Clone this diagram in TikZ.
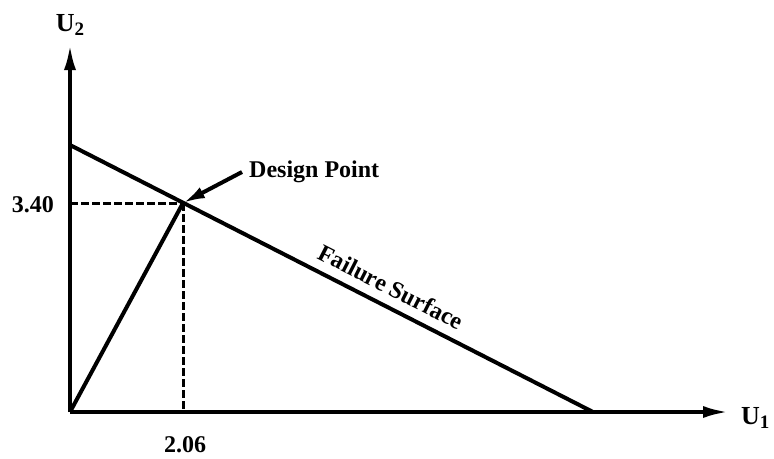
\documentclass[tikz,border=0pt]{standalone}
\usepackage{fontspec}
\setmainfont{Liberation Serif}
\usetikzlibrary{arrows.meta}
\begin{document}
\begin{tikzpicture}[x=1pt,y=-1pt,
  axis/.style={line width=4pt,-{Latex[length=26pt,width=12pt]}},
  thick line/.style={line width=4pt},
  dashline/.style={line width=3pt,dash pattern=on 8pt off 3pt},
  lbl/.style={font=\fontsize{24}{27}\selectfont\bfseries,inner sep=0pt}]
\useasboundingbox (0,0) rectangle (774,458);
\coordinate (O) at (70,412);
\coordinate (ytop) at (70,44);
\coordinate (xend) at (729,412);
\coordinate (A) at (70,145);
\coordinate (B) at (593,412);
\coordinate (D) at (183,203);
\coordinate (dy) at (70,203);
\coordinate (dx) at (183,412);
\coordinate (ptail) at (242,172);
% axes
\draw[axis] (O) -- (ytop);
\draw[axis] (O) -- (xend);
% failure surface and design line
\draw[thick line] (A) -- (B);
\draw[thick line] (O) -- (D);
% dashed projections
\draw[dashline] (dy) -- (D);
\draw[dashline] (D) -- (dx);
% design point arrow
\draw[line width=4pt,-{Latex[length=22pt,width=12pt]}] (ptail) -- (D);
% labels
\node[lbl,anchor=west] (dp) at (249,172) {Design Point};
\node[lbl,anchor=east] (v340) at (54,205) {3.40};
\node[lbl] (v206) at (185,445) {2.06};
\node[lbl,rotate=-27] (fs) at (391,287) {Failure Surface};
\node[lbl,anchor=west,font=\fontsize{26}{29}\selectfont\bfseries] (u1) at (741,418) {U\raisebox{-0.35ex}{\fontsize{19}{22}\selectfont 1}};
\node[lbl,font=\fontsize{26}{29}\selectfont\bfseries] (u2) at (70,25) {U\raisebox{-0.35ex}{\fontsize{19}{22}\selectfont 2}};
\end{tikzpicture}
\end{document}
